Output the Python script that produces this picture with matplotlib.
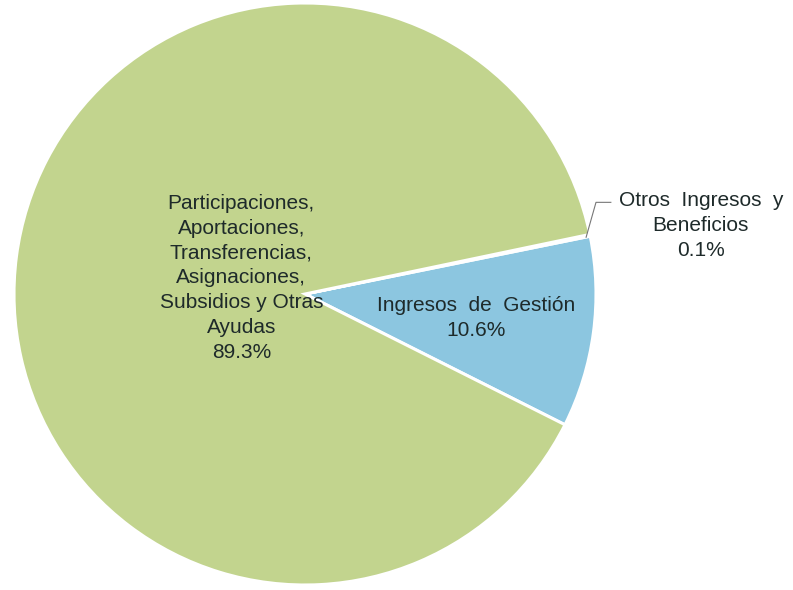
import matplotlib
matplotlib.use("Agg")
import matplotlib.pyplot as plt

categories = ["Ingresos de Gestión", "Otros Ingresos y\nBeneficios",
              "Participaciones,\nAportaciones,\nTransferencias,\nAsignaciones,\nSubsidios y Otras\nAyudas"]
values = [10.6, 0.1, 89.3]
colors = ["#8cc6e0", "#d9c2d6", "#c2d48e"]

plt.rcParams['font.family'] = ['Liberation Sans', 'DejaVu Sans']

fig = plt.figure(figsize=(7.93, 5.90), dpi=100)
R = 291.0
cx, cy = 305.0, 294.0
W, H = 793.0, 590.0
ax = fig.add_axes([(cx - R) / W, (H - cy - R) / H, 2 * R / W, 2 * R / H])

wedges, _ = ax.pie(values, colors=colors, startangle=-26.7, counterclock=True,
                   radius=1.0, center=(0, 0), frame=False,
                   wedgeprops=dict(edgecolor='white', linewidth=2.2))
ax.set_xlim(-1, 1)
ax.set_ylim(-1, 1)
ax.set_aspect('equal')
ax.axis('off')

fs = 15
ls = 1.38
tc = '#1e2a2a'
ax.text(-0.219, 0.055, categories[2] + "\n%.1f%%" % values[2], ha='center', va='center',
        fontsize=fs, color=tc, linespacing=ls)
ax.text(0.589, -0.082, categories[0].replace(" ", "  ") + "\n%.1f%%" % values[0],
        ha='center', va='center', fontsize=fs, color=tc, linespacing=ls)
ax.text(1.36, 0.235, categories[1].replace(" ", "  ") + "\n%.1f%%" % values[1],
        ha='center', va='center', fontsize=fs, color=tc, linespacing=ls, clip_on=False)
ax.plot([0.966, 1.0, 1.051], [0.195, 0.315, 0.315], color='#777777', lw=0.8,
        clip_on=False)

fig.savefig("out.png", dpi=100, facecolor='white')
